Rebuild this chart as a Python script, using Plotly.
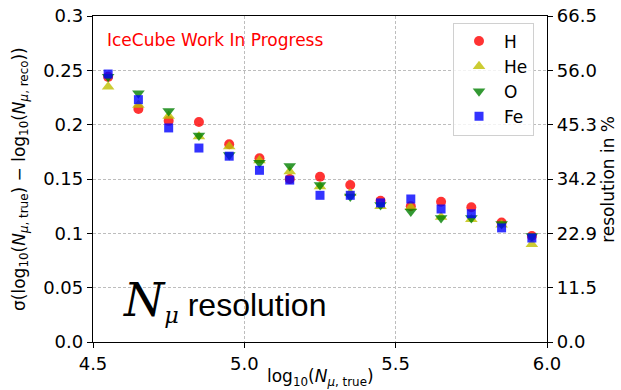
import plotly.graph_objects as go

# Bin centres in log10(N_mu, true)
log_n_true = [4.55, 4.65, 4.75, 4.85, 4.95, 5.05, 5.15, 5.25, 5.35, 5.45, 5.55, 5.65, 5.75, 5.85, 5.95]

# Width of the log10(N_true) - log10(N_reco) distribution per primary
res_h = [0.244, 0.2145, 0.2035, 0.2025, 0.182, 0.169, 0.150, 0.152, 0.1445, 0.130, 0.125, 0.129, 0.124, 0.110, 0.0975]
res_he = [0.235, 0.218, 0.208, 0.189, 0.180, 0.167, 0.157, 0.143, 0.137, 0.125, 0.124, 0.115, 0.113, 0.108, 0.090]
res_o = [0.244, 0.229, 0.2125, 0.190, 0.172, 0.165, 0.162, 0.1445, 0.134, 0.126, 0.120, 0.114, 0.114, 0.1085, 0.0975]
res_fe = [0.2466, 0.223, 0.197, 0.1785, 0.171, 0.158, 0.149, 0.135, 0.135, 0.128, 0.1316, 0.1224, 0.118, 0.105, 0.0957]

series = [
    ("H", res_h, "circle", "rgba(255,0,0,0.8)", 10),
    ("He", res_he, "triangle-up", "rgba(191,191,0,0.8)", 11),
    ("O", res_o, "triangle-down", "rgba(0,128,0,0.8)", 11),
    ("Fe", res_fe, "square", "rgba(0,0,255,0.8)", 9),
]

# Axis ticks
x_ticks = [4.5, 5.0, 5.5, 6.0]
x_tick_text = ["4.5", "5.0", "5.5", "6.0"]
y_ticks = [0.0, 0.05, 0.1, 0.15, 0.2, 0.25, 0.3]
y_tick_text = ["0.0", "0.05", "0.1", "0.15", "0.2", "0.25", "0.3"]
pct_tick_text = ["0.0", "11.5", "22.9", "34.2", "45.3", "56.0", "66.5"]

FONT = "DejaVu Sans"

fig = go.Figure()
for name, vals, sym, col, size in series:
    fig.add_trace(go.Scatter(
        x=log_n_true, y=vals, mode="markers", name=name,
        marker=dict(symbol=sym, color=col, size=size, line=dict(width=0)),
    ))

# Invisible carrier trace so the percentage axis is drawn
fig.add_trace(go.Scatter(x=[log_n_true[0]], y=[0], yaxis="y2", mode="markers",
                         marker=dict(opacity=0), showlegend=False, hoverinfo="skip"))

grid = dict(showgrid=True, gridcolor="#bdbdbd", griddash="3px,2px", gridwidth=1)
axis_common = dict(showline=True, linecolor="black", linewidth=1.3, ticks="outside",
                   ticklen=5, tickwidth=1.2, tickcolor="black", zeroline=False,
                   automargin=False,
                   tickfont=dict(family=FONT, size=18, color="black"))

fig.update_layout(
    width=621, height=390,
    margin=dict(l=93, r=74, t=16, b=48, autoexpand=False),
    plot_bgcolor="white", paper_bgcolor="white",
    font=dict(family=FONT, color="black"),
    xaxis=dict(range=[4.5, 6.0], tickmode="array", tickvals=x_ticks, ticktext=x_tick_text,
               mirror=True, **grid, **axis_common),
    yaxis=dict(range=[0, 0.3], tickmode="array", tickvals=y_ticks, ticktext=y_tick_text,
               **grid, **axis_common),
    yaxis2=dict(range=[0, 0.3], tickmode="array", tickvals=y_ticks, ticktext=pct_tick_text,
                overlaying="y", side="right", showgrid=False, **axis_common),
    legend=dict(x=0.793, y=0.98, xanchor="left", yanchor="top",
                bgcolor="rgba(255,255,255,0.8)", bordercolor="#d0d0d0", borderwidth=1,
                font=dict(family=FONT, size=17), tracegroupgap=0, itemwidth=40),
    showlegend=True,
)

annotations = [
    dict(text="IceCube Work In Progress", x=0.026, y=0.926, xref="paper", yref="paper",
         xanchor="left", yanchor="middle", showarrow=False,
         font=dict(family=FONT, size=17, color="red")),
    dict(text="<span style='font-family:\"DejaVu Serif\"; font-style:italic; font-size:46px'>N</span>"
              "<sub><span style='font-family:\"DejaVu Serif\"; font-style:italic'>μ</span></sub>"
              " resolution",
         x=0.062, y=0.127, xref="paper", yref="paper", xanchor="left", yanchor="middle",
         showarrow=False, font=dict(family="Liberation Sans", size=32, color="black")),
    dict(text="log<sub>10</sub>(<i>N</i><sub><i>μ</i>, true</sub>)", x=0.5, y=-0.11,
         xref="paper", yref="paper", xanchor="center", yanchor="middle", showarrow=False,
         font=dict(family=FONT, size=17)),
    dict(text="σ(log<sub>10</sub>(<i>N</i><sub><i>μ</i>, true</sub>) − log<sub>10</sub>(<i>N</i><sub><i>μ</i>, reco</sub>))",
         x=-0.161, y=0.5, xref="paper", yref="paper", xanchor="center", yanchor="middle",
         textangle=-90, showarrow=False, font=dict(family=FONT, size=17)),
    dict(text="resolution in %", x=1.134, y=0.5, xref="paper", yref="paper",
         xanchor="center", yanchor="middle", textangle=-90, showarrow=False,
         font=dict(family=FONT, size=17)),
]
fig.update_layout(annotations=annotations)

fig.write_html("out.html")
